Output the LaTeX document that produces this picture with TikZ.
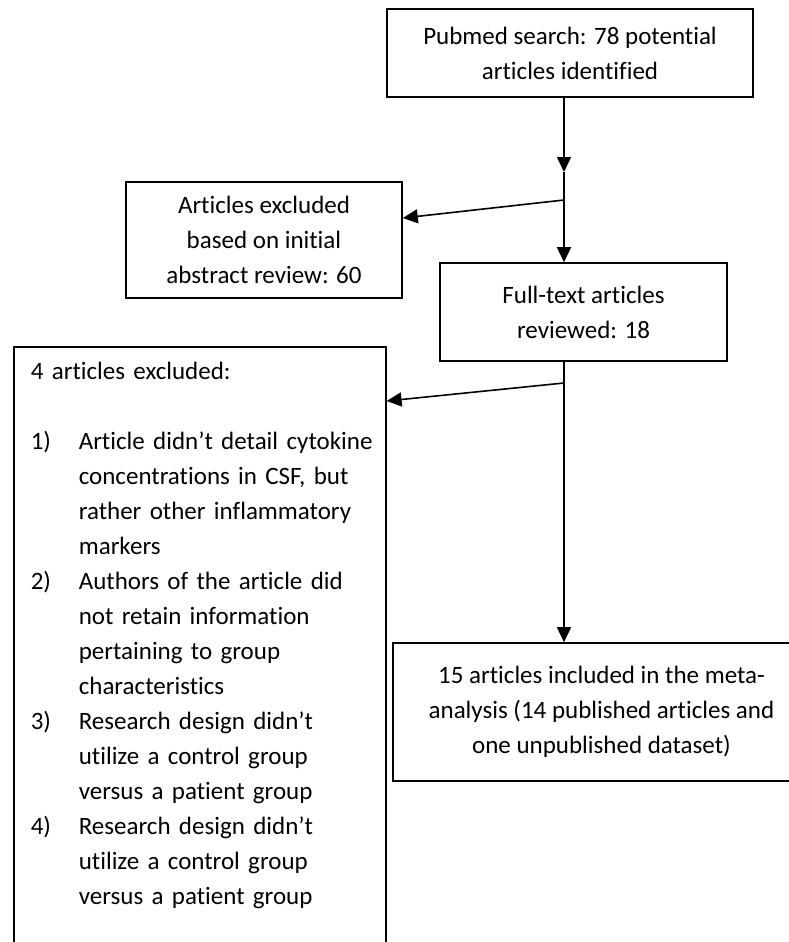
\documentclass[tikz,border=0pt]{standalone}
\usepackage{fontspec}
\setmainfont{Carlito}[Ligatures=NoCommon]
\usetikzlibrary{arrows.meta}
\begin{document}
\begin{tikzpicture}[x=0.5pt, y=-0.5pt, thick, >={Triangle[length=7.5pt,width=7pt]},
    box node/.style={rectangle,draw,align=center,inner sep=0pt,font=\fontsize{12.5}{17.5}\selectfont},
    list node/.style={rectangle,draw,align=left,anchor=north west,text width=169pt,inner xsep=8.5pt,inner ysep=4pt,font=\fontsize{12.5}{17.5}\selectfont}]
    \useasboundingbox (0,0) rectangle (788,942);

                \node[box node, minimum width=183pt, minimum height=44pt] at (570,53) (search) {Pubmed search: 78 potential\\articles identified};
                \node[box node, minimum width=138pt, minimum height=58pt] at (264,240) (abstract) {Articles excluded\\based on initial\\abstract review: 60};
                \node[box node, minimum width=143.5pt, minimum height=49pt] at (583.5,312) (review) {Full-text articles\\reviewed: 18};
                \node[box node, minimum width=208.5pt, minimum height=69pt] at (601.5,712) (included) {15 articles included in the meta-\\analysis (14 published articles and\\one unpublished dataset)};
                \node[list node] at (13,346) (excluded) {\rule{0pt}{12.5pt}4 articles excluded:\\[17.5pt]
                    \mbox{\makebox[24pt][l]{1)}Article didn’t detail cytokine}\\
                    \mbox{\hspace*{24pt}concentrations in CSF, but}\\
                    \mbox{\hspace*{24pt}rather other inflammatory}\\
                    \mbox{\hspace*{24pt}markers}\\
                    \mbox{\makebox[24pt][l]{2)}Authors of the article did}\\
                    \mbox{\hspace*{24pt}not retain information}\\
                    \mbox{\hspace*{24pt}pertaining to group}\\
                    \mbox{\hspace*{24pt}characteristics}\\
                    \mbox{\makebox[24pt][l]{3)}Research design didn’t}\\
                    \mbox{\hspace*{24pt}utilize a control group}\\
                    \mbox{\hspace*{24pt}versus a patient group}\\
                    \mbox{\makebox[24pt][l]{4)}Research design didn’t}\\
                    \mbox{\hspace*{24pt}utilize a control group}\\
                    \mbox{\hspace*{24pt}versus a patient group}\\[17.5pt]
                    \mbox{}};

                \coordinate (mid1) at (564,172);
                \coordinate (fork1) at (564,200);
                \coordinate (fork2) at (564,383);

            \path[->] (search.south -| mid1) edge (mid1);
            \path[->] (mid1) edge (mid1 |- review.north);
            \path[->] (fork1) edge ([yshift=11pt]abstract.east);

            \path[->] (review.south -| fork2) edge (fork2 |- included.north);
            \path[->] (fork2) edge ([yshift=-27.5pt]excluded.north east);

            \end{tikzpicture}
\end{document}
